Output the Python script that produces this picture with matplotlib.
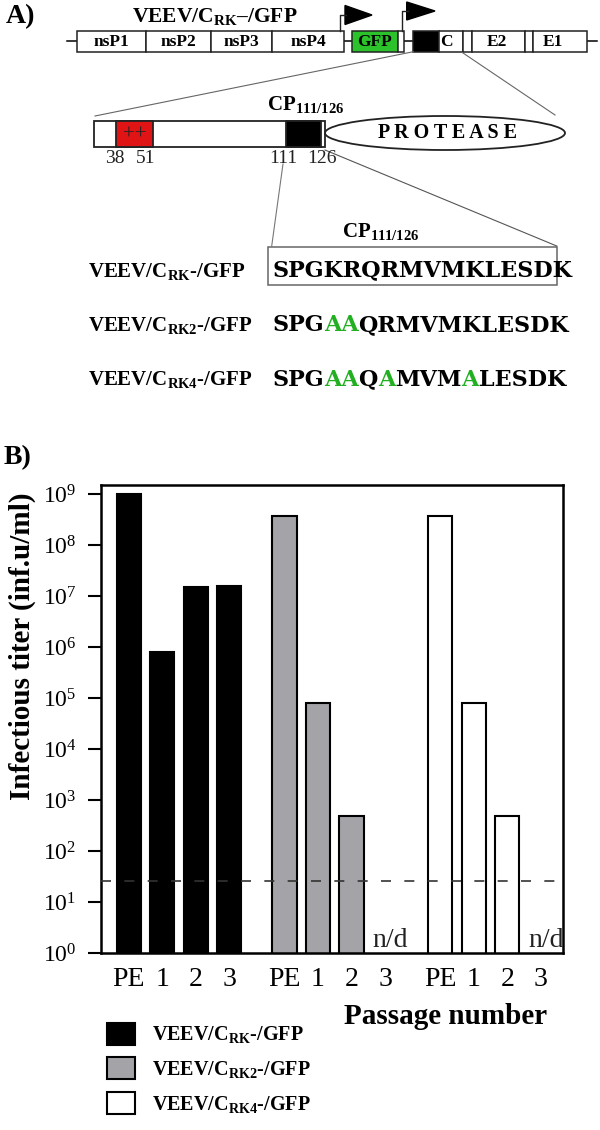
import numpy as np
import matplotlib
matplotlib.use("Agg")
import matplotlib.pyplot as plt
from matplotlib.patches import Rectangle, Ellipse, Polygon

plt.rcParams['font.family'] = ['Liberation Serif', 'DejaVu Serif']
plt.rcParams['mathtext.fontset'] = 'custom'
plt.rcParams['mathtext.rm'] = 'Liberation Serif'
plt.rcParams['mathtext.bf'] = 'Liberation Serif:bold'
plt.rcParams['mathtext.it'] = 'Liberation Serif:italic'

# ---------------- data ----------------
passages = ['PE', '1', '2', '3']
construct_labels = ['VEEV/C$_{\\mathbf{RK}}$-/GFP',
                    'VEEV/C$_{\\mathbf{RK2}}$-/GFP',
                    'VEEV/C$_{\\mathbf{RK4}}$-/GFP']
titer_rk = [1.0e9, 8.2e5, 1.5e7, 1.6e7]
titer_rk2 = [3.8e8, 8.2e4, 5.0e2, np.nan]
titer_rk4 = [3.8e8, 8.2e4, 5.0e2, np.nan]
detection_limit = 26
seq_wt = 'SPGKRQRMVMKLESDK'
seq_rk2 = 'SPGAAQRMVMKLESDK'
seq_rk4 = 'SPGAAQAMVMALESDK'
genome_genes = ['nsP1', 'nsP2', 'nsP3', 'nsP4']
capsid_positions = ['38', '51', '111', '126']

# ---------------- figure ----------------
W, H = 600, 1130
fig = plt.figure(figsize=(6, 11.3), dpi=100)

GREEN = '#2cc22c'
SEQGREEN = '#22b022'
GRAY = '#a3a3a8'

# ---- panel A (pixel coordinate overlay) ----
axA = fig.add_axes([0, 0, 1, 1])
axA.set_xlim(0, W)
axA.set_ylim(H, 0)
axA.axis('off')
axA.patch.set_visible(False)

fig.text(20 / W, 1 - 17 / H, 'A)', fontsize=20, fontweight='bold', ha='center', va='center')
fig.text(17 / W, 1 - 458 / H, 'B)', fontsize=20, fontweight='bold', ha='center', va='center')

# genome backbone
axA.plot([67, 597], [41, 41], color='k', lw=1.1, zorder=1)
gy0, gy1 = 30.5, 51.7
gene_edges = [76.7, 146, 210.7, 272.3, 344]
for i, name in enumerate(genome_genes):
    x0, x1 = gene_edges[i], gene_edges[i + 1]
    axA.add_patch(Rectangle((x0, gy0), x1 - x0, gy1 - gy0, fc='white', ec='#222', lw=1.1, zorder=2))
    axA.text((x0 + x1) / 2, 42, name, fontsize=12.5, fontweight='bold', ha='center', va='center', zorder=3)
other_boxes = [(351.7, 398.3, GREEN), (398.3, 404, 'white'), (413.3, 439.3, 'black'),
               (439.3, 463.3, 'white'), (463.3, 471.7, 'white'), (471.7, 525, 'white'),
               (525, 533.3, 'white'), (533.3, 587.3, 'white')]
for x0, x1, fc in other_boxes:
    axA.add_patch(Rectangle((x0, gy0), x1 - x0, gy1 - gy0, fc=fc, ec='#222', lw=1.1, zorder=2))
for txt, xc in [('GFP', 375), ('C', 446), ('E2', 497), ('E1', 553)]:
    axA.text(xc, 42, txt, fontsize=12.5, fontweight='bold', ha='center', va='center', zorder=3)

# promoter arrows
axA.plot([340, 340, 346], [gy0, 15, 15], color='#222', lw=1.0)
axA.add_patch(Polygon([(345, 5.5), (345, 24.5), (372, 15)], closed=True, fc='black', ec='black'))
axA.plot([402.3, 402.3, 408], [gy0, 11, 11], color='#222', lw=1.0)
axA.add_patch(Polygon([(406.7, 2), (406.7, 20), (435, 11)], closed=True, fc='black', ec='black'))

# zoom lines
axA.plot([413.3, 95], [51.7, 116], color='#666', lw=0.8)
axA.plot([462.3, 555], [52.5, 115], color='#666', lw=0.8)

# capsid expanded
cy0, cy1 = 121, 146.7
axA.add_patch(Rectangle((94.3, cy0), 325 - 94.3, cy1 - cy0, fc='white', ec='#222', lw=1.3, zorder=2))
axA.add_patch(Rectangle((115.7, cy0), 152.7 - 115.7, cy1 - cy0, fc='#e01414', ec='#222', lw=1.3, zorder=3))
axA.add_patch(Rectangle((285.7, cy0), 320.7 - 285.7, cy1 - cy0, fc='black', ec='#222', lw=1.3, zorder=3))
axA.text(134.3, 135, '++', fontsize=15, ha='center', va='center', color='#222', zorder=4)
axA.add_patch(Ellipse((445, 133), 240, 34, fc='white', ec='#222', lw=1.3, zorder=2))
axA.text(448, 133, 'P R O T E A S E', fontsize=14.5, fontweight='bold', ha='center', va='center', zorder=4)
for lab, xc in zip(capsid_positions, [115, 146, 283, 321.7]):
    axA.text(xc, 158.5, lab, fontsize=14, ha='center', va='center', color='#222')
axA.text(306, 110, 'CP$_{\\mathbf{111/126}}$', fontsize=15, fontweight='bold', ha='center', va='baseline')

# lines to sequence box
axA.plot([283, 271.7], [164, 246], color='#777', lw=0.8)
axA.plot([325, 556.7], [150, 246], color='#555', lw=0.8)
axA.add_patch(Rectangle((268.3, 247.3), 557.3 - 268.3, 285 - 247.3, fc='none', ec='#666', lw=1.1))
axA.text(381, 237, 'CP$_{\\mathbf{111/126}}$', fontsize=15, fontweight='bold', ha='center', va='baseline')


def draw_seq(x, y, seq, ref):
    segs = []
    for ch, r in zip(seq, ref):
        col = SEQGREEN if ch != r else 'black'
        if segs and segs[-1][1] == col:
            segs[-1][0] += ch
        else:
            segs.append([ch, col])
    kw = dict(fontsize=16, fontweight='bold', family='DejaVu Serif')
    t = axA.text(x, y, segs[0][0], color=segs[0][1], ha='left', va='baseline', **kw)
    for s, c in segs[1:]:
        t = axA.annotate(s, xycoords=t, xy=(1, 0), va='bottom', ha='left', color=c, **kw)


row_base = [276.5, 331, 385.5]
for lab, seq, yb in zip(construct_labels, [seq_wt, seq_rk2, seq_rk4], row_base):
    axA.text(88, yb, lab, fontsize=15, fontweight='bold', ha='left', va='baseline')
    draw_seq(272, yb, seq, seq_wt)

axA.text(215, 22, 'VEEV/C$_{\\mathbf{RK}}$\u2013/GFP', fontsize=15.5, fontweight='bold',
         ha='center', va='baseline')

# ---- panel B ----
L, R, T, B = 100.7, 563.3, 485, 953.3
ax = fig.add_axes([L / W, 1 - B / H, (R - L) / W, (B - T) / H])
ax.set_yscale('log')

group_offsets = [0.0, 4.65, 9.3]
series = [titer_rk, titer_rk2, titer_rk4]
colors = ['black', GRAY, 'white']
bar_w = 0.72
handles = []
for g, (vals, col, lab) in enumerate(zip(series, colors, construct_labels)):
    xs = np.arange(len(passages)) + group_offsets[g]
    vals = np.asarray(vals, dtype=float)
    ok = ~np.isnan(vals)
    bc = ax.bar(xs[ok], vals[ok], width=bar_w, color=col, edgecolor='black', linewidth=1.5,
                label=lab, zorder=2)
    handles.append(bc)
    for xi in xs[~ok]:
        ax.text(xi + 0.15, 1.33, 'n/d', fontsize=20, ha='center', va='baseline', color='#222')

ax.axhline(detection_limit, color='#333', lw=1.2, dashes=(6, 8), zorder=3)

ticks_x = np.concatenate([np.arange(len(passages)) + o for o in group_offsets])
ax.set_xticks(ticks_x)
ax.set_xticklabels(passages * 3, fontsize=20)
ax.tick_params(axis='x', length=0, pad=10)
ax.set_xlim(-0.836, 12.97)
ax.set_ylim(1, 10 ** 9.18)
ax.set_yticks([10 ** k for k in range(10)])
ax.minorticks_off()
ax.tick_params(axis='y', length=9.5, width=1.5, labelsize=17, pad=8)
for sp in ax.spines.values():
    sp.set_linewidth(1.8)

ax.set_ylabel('Infectious titer (inf.u/ml)', fontsize=21, fontweight='bold')
ax.yaxis.set_label_coords((22 - L) / (R - L), (B - 646) / (B - T))
ax.yaxis.label.set_verticalalignment('center')
ax.set_xlabel('Passage number', fontsize=21, fontweight='bold')
ax.xaxis.set_label_coords((446 - L) / (R - L), (B - 1016) / (B - T))
ax.xaxis.label.set_verticalalignment('center')

fs_leg = 14.5
px = fs_leg * 100 / 72
fig.legend(handles=handles, labels=construct_labels, loc='upper left',
           bbox_to_anchor=(107 / W, 1 - 1022.7 / H), bbox_transform=fig.transFigure,
           frameon=False, borderpad=0, borderaxespad=0,
           prop={'size': fs_leg, 'weight': 'bold'},
           handlelength=28 / px, handleheight=26 / px, labelspacing=12 / px,
           handletextpad=16.7 / px)

fig.savefig('out.png', dpi=100)
